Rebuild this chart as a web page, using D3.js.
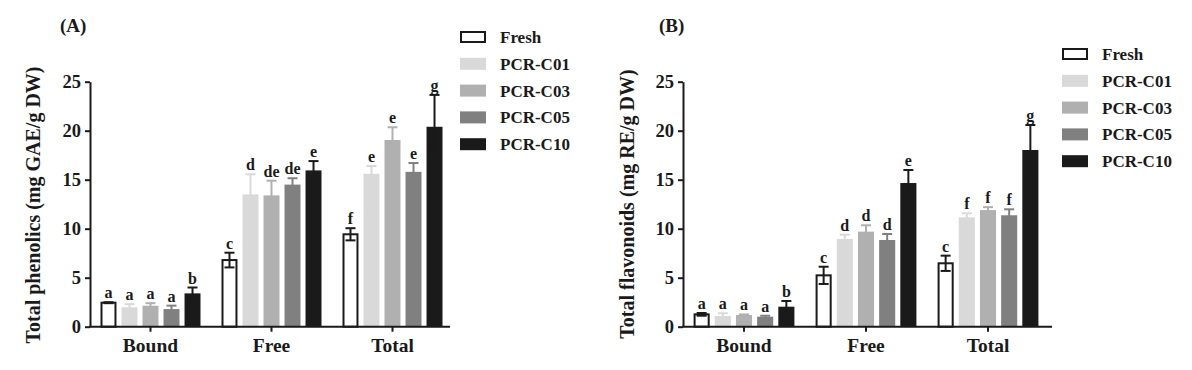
<!DOCTYPE html>
<html>
<head>
<meta charset="utf-8">
<script src="https://cdn.jsdelivr.net/npm/d3@7"></script>
<style>
  body { margin: 0; background: #fff; }
  text { font-family: "Liberation Serif", "Times New Roman", serif; font-weight: bold; fill: #1a1a1a; }
</style>
</head>
<body>
<script>
const categories = ["Bound", "Free", "Total"];
const series = ["Fresh", "PCR-C01", "PCR-C03", "PCR-C05", "PCR-C10"];
const colors = ["#ffffff", "#d9d9d9", "#b0b0b0", "#808080", "#1a1a1a"];
const yTicks = [0, 5, 10, 15, 20, 25];

// panel A: total phenolics (mean, sd, letters) per category
const phenolMean = [[2.45, 1.98, 2.14, 1.80, 3.40], [6.8, 13.5, 13.4, 14.5, 15.95], [9.43, 15.6, 19.05, 15.8, 20.4]];
const phenolSd = [[0.05, 0.32, 0.26, 0.35, 0.6], [0.75, 2.05, 1.5, 0.65, 0.95], [0.62, 0.8, 1.3, 0.9, 3.25]];
const phenolLetters = [["a", "a", "a", "a", "b"], ["c", "d", "de", "de", "e"], ["f", "e", "e", "e", "g"]];

// panel B: total flavonoids
const flavMean = [[1.26, 1.09, 1.19, 1.02, 2.04], [5.24, 8.95, 9.7, 8.85, 14.66], [6.47, 11.16, 11.9, 11.37, 18.03]];
const flavSd = [[0.14, 0.28, 0.06, 0.1, 0.58], [0.88, 0.44, 0.65, 0.61, 1.33], [0.78, 0.41, 0.3, 0.61, 2.55]];
const flavLetters = [["a", "a", "a", "a", "b"], ["c", "d", "d", "d", "e"], ["c", "f", "f", "f", "g"]];

const svg = d3.select("body").append("svg")
    .attr("width", 1192)
    .attr("height", 370);

function drawPanel(p) {
    const g = svg.append("g");
    const x0 = d3.scaleBand().domain(categories).range([p.left, p.right]);
    const x1 = d3.scaleBand().domain(series).range([0, x0.bandwidth()])
        .paddingInner(0.24).paddingOuter(0.5);
    const y = d3.scaleLinear().domain([0, 25]).range([326.7, 81.7]);

    // flatten data into rows
    var rows = [];
    categories.forEach(function(c, i) {
        series.forEach(function(s, j) {
            rows.push({cat: c, ser: s, i: j, mean: p.mean[i][j], sd: p.sd[i][j], letter: p.letters[i][j]});
        });
    });

    const groups = g.selectAll(".bar").data(rows).enter().append("g")
        .attr("transform", function(d) { return "translate(" + (x0(d.cat) + x1(d.ser)) + ",0)"; });

    groups.append("rect")
        .attr("x", function(d) { return d.i == 0 ? 1 : 0; })
        .attr("width", function(d) { return d.i == 0 ? x1.bandwidth() - 2 : x1.bandwidth(); })
        .attr("y", function(d) { return y(d.mean); })
        .attr("height", function(d) { return y(0) - y(d.mean); })
        .attr("fill", function(d) { return colors[d.i]; })
        .attr("stroke", function(d) { return d.i == 0 ? "#1a1a1a" : "none"; })
        .attr("stroke-width", 2);

    // error bars, same colour as the bar
    const cx = x1.bandwidth() / 2;
    const errColor = function(d) { return d.i == 0 ? "#1a1a1a" : colors[d.i]; };
    groups.append("line")
        .attr("x1", cx).attr("x2", cx)
        .attr("y1", function(d) { return y(d.mean - d.sd); })
        .attr("y2", function(d) { return y(d.mean + d.sd); })
        .attr("stroke", errColor).attr("stroke-width", 2);
    groups.append("line")
        .attr("x1", cx - 5).attr("x2", cx + 5)
        .attr("y1", function(d) { return y(d.mean + d.sd); })
        .attr("y2", function(d) { return y(d.mean + d.sd); })
        .attr("stroke", errColor).attr("stroke-width", 2);
    groups.filter(function(d) { return d.i == 0; }).append("line")
        .attr("x1", cx - 5).attr("x2", cx + 5)
        .attr("y1", function(d) { return y(d.mean - d.sd); })
        .attr("y2", function(d) { return y(d.mean - d.sd); })
        .attr("stroke", "#1a1a1a").attr("stroke-width", 2);

    groups.append("text")
        .attr("x", cx)
        .attr("y", function(d) { return y(d.mean + d.sd) - 4; })
        .attr("text-anchor", "middle")
        .style("font-size", "16px")
        .text(function(d) { return d.letter; });

    // axes
    const yAxis = d3.axisLeft(y).tickValues(yTicks).tickSize(5).tickSizeOuter(0).tickPadding(4);
    const ya = g.append("g").attr("transform", "translate(" + p.left + ",0)").call(yAxis);
    ya.selectAll("text").style("font-size", "18.5px");

    const xAxis = d3.axisBottom(x0).tickSize(5).tickSizeOuter(0).tickPadding(6);
    const xa = g.append("g").attr("transform", "translate(0," + y(0) + ")").call(xAxis);
    xa.selectAll("text").style("font-size", "19.5px");
    xa.select(".domain").attr("d", "M" + (p.left - 1) + ",0H" + p.axisEnd);

    g.selectAll(".domain, .tick line").attr("stroke", "#1a1a1a").attr("stroke-width", 2);

    // axis title
    g.append("text")
        .attr("transform", "translate(" + p.titleX + "," + p.titleY + ") rotate(-90)")
        .attr("text-anchor", "middle")
        .style("font-size", "20px")
        .text(p.yTitle);

    g.append("text")
        .attr("x", p.labelX).attr("y", 32)
        .style("font-size", "19px")
        .text(p.label);

    // legend
    const leg = g.selectAll(".leg").data(series).enter().append("g")
        .attr("transform", function(d, i) { return "translate(" + p.legX + "," + (p.legY + i * 26.8) + ")"; });
    leg.append("rect")
        .attr("x", function(d, i) { return i == 0 ? 1 : 0; })
        .attr("y", function(d, i) { return i == 0 ? -5 : -6; })
        .attr("width", function(d, i) { return i == 0 ? 24 : 26; })
        .attr("height", function(d, i) { return i == 0 ? 10 : 12; })
        .attr("fill", function(d, i) { return colors[i]; })
        .attr("stroke", function(d, i) { return i == 0 ? "#1a1a1a" : "none"; })
        .attr("stroke-width", 2);
    leg.append("text")
        .attr("x", 40).attr("y", 6)
        .style("font-size", "17px")
        .text(function(d) { return d; });
}

drawPanel({
    left: 90, right: 453, axisEnd: 450,
    mean: phenolMean, sd: phenolSd, letters: phenolLetters,
    yTitle: "Total phenolics (mg GAE/g DW)", titleX: 40, titleY: 205,
    label: "(A)", labelX: 60, legX: 460, legY: 37
});

drawPanel({
    left: 683, right: 1049, axisEnd: 1052,
    mean: flavMean, sd: flavSd, letters: flavLetters,
    yTitle: "Total flavonoids (mg RE/g DW)", titleX: 634, titleY: 204,
    label: "(B)", labelX: 659, legX: 1062, legY: 54
});
</script>
</body>
</html>
